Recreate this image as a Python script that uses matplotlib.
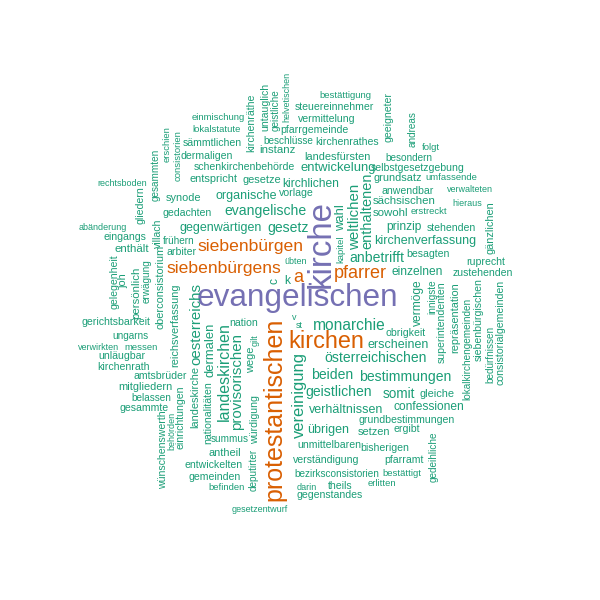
import matplotlib
matplotlib.use("Agg")
import matplotlib.pyplot as plt

# word frequencies (data)
words = [
    "kirche", "evangelischen", "protestantischen", "kirchen", "pfarrer", "a",
    "siebenbürgen", "siebenbürgens", "vereinigung", "landeskirchen", "monarchie",
    "weltlichen", "oesterreichs", "provisorischen", "enthaltenen", "evangelische",
    "gesetz", "anbetrifft", "österreichischen", "beiden", "bestimmungen",
    "geistlichen", "somit", "entwickelung", "wahl", "dermalen", "organische",
    "gegenwärtigen", "kirchenverfassung", "erscheinen", "verhältnissen", "übrigen",
    "kirchlichen", "prinzip", "einzelnen", "vermöge", "confessionen", "c", "k",
    "instanz", "sächsischen", "sowohl", "enthält", "persönlich",
    "entspricht", "gesetze", "synode", "landesfürsten", "grundsatz", "gänzlichen",
    "repräsentation", "gleiche", "setzen", "antheil", "landeskirche", "wege",
    "mitgliedern", "joh", "oberconsistorium", "reichsverfassung",
    "sämmtlichen", "dermaligen", "schenkirchenbehörde", "vorlage", "gedachten",
    "kirchenräthe", "untauglich", "gliedern", "villach", "pfarrgemeinde",
    "steuereinnehmer", "vermittelung", "kirchenrathes", "geeigneter",
    "selbstgesetzgebung", "anwendbar", "stehenden", "besagten", "ruprecht",
    "zustehenden", "superintendenten", "siebenbürgischen", "consistorialgemeinden",
    "obrigkeit", "grundbestimmungen", "ergibt", "unmittelbaren", "bisherigen",
    "verständigung", "pfarramt", "theils", "gegenstandes", "würdigung",
    "entwickelten", "gemeinden", "nationalitäten", "nation", "gesammte",
    "wünschenswerth", "einrichtungen", "eingangs", "arbiter", "gelegenheit",
    "gerichtsbarkeit", "unläugbar", "kirchenrath", "amtsbrüder",
    "geistliche", "gesammten", "beschlüsse", "andreas", "besondern", "innigste",
    "lokalkirchengemeinden", "bedürfnissen", "bezirksconsistorien", "gedeihliche",
    "deputirter", "summus", "belassen", "frühern", "erwägung", "ungarns",
    "einmischung", "lokalstatute", "erschien", "consistorien", "bestättigung",
    "folgt", "umfassende", "erstreckt", "kapitel", "bestättigt", "erlitten",
    "befinden", "messen",
    "rechtsboden", "abänderung", "helvetischen", "verwalteten", "hieraus",
    "darin", "gesetzentwurf", "gilt", "st", "v", "behörden", "übten", "verwirkten",
]
freq = [
    56, 53, 40, 37, 26, 26,
    25, 25, 23, 22, 21,
    20, 20, 20, 19, 18,
    18, 18, 18, 18, 18,
    18, 17, 16, 16, 16, 15,
    15, 15, 15, 15, 15,
    14, 14, 14, 14, 14, 14, 14,
    13, 13, 13, 13, 13,
    12, 12, 12, 12, 12, 12,
    12, 12, 12, 12, 12, 12,
    12, 12, 12, 12,
    11, 11, 11, 11, 11,
    11, 11, 11, 11, 11,
    11, 11, 11, 11,
    11, 11, 11, 11, 11,
    11, 11, 11, 11,
    11, 11, 11, 11, 11,
    11, 11, 11, 11, 11,
    11, 11, 11, 11, 11,
    11, 11, 11, 11, 11,
    11, 11, 11, 11,
    10, 10, 10, 10, 10, 10,
    10, 10, 10, 10,
    10, 10, 10, 10, 10, 10,
    9, 9, 9, 9, 9,
    9, 9, 9, 9, 9, 9,
    9, 9,
    8, 8, 8, 8, 8,
    8, 8, 8, 8, 8, 8, 8, 8,
]

# layout of the cloud: word centre in pixels and whether it is drawn upright
layout_x = [
    321, 297, 274, 326, 360, 298,
    250, 224, 299, 224, 349,
    355, 196, 237, 367, 265,
    288, 377, 376, 332, 405,
    339, 399, 338, 341, 210, 246,
    221, 425, 398, 346, 328,
    311, 404, 417, 418, 429, 274, 287,
    277, 404, 391, 132, 136,
    214, 262, 183, 337, 398, 491,
    455, 437, 374, 225, 195, 251,
    145, 123, 160, 175,
    212, 207, 244, 296, 187,
    251, 265, 140, 158, 314,
    334, 327, 347, 388,
    418, 408, 451, 428, 486,
    483, 442, 479, 500,
    406, 407, 407, 329, 385,
    326, 404, 340, 330, 255,
    214, 215, 208, 244, 144,
    163, 181, 125, 182, 114,
    116, 122, 124, 160,
    276, 156, 288, 413, 409, 432,
    467, 490, 337, 434,
    254, 230, 151, 179, 147, 130,
    218, 217, 167, 178, 345,
    431, 451, 429, 341, 402, 382,
    227, 141,
    122, 103, 287, 470, 467,
    307, 260, 255, 299, 294, 172, 296, 99,
]
layout_y = [
    244, 298, 409, 342, 274, 278,
    247, 268, 395, 372, 325,
    217, 324, 382, 211, 211,
    228, 258, 358, 375, 377,
    392, 394, 168, 218, 350, 196,
    228, 241, 345, 410, 430,
    184, 227, 272, 303, 407, 281, 281,
    150, 201, 213, 249, 293,
    179, 180, 198, 157, 178, 228,
    318, 394, 432, 453, 397, 360,
    387, 281, 287, 325,
    143, 156, 167, 193, 213,
    123, 107, 205, 233, 130,
    107, 119, 142, 117,
    168, 191, 228, 254, 262,
    273, 322, 320, 332,
    333, 420, 429, 445, 448,
    460, 460, 486, 495, 420,
    465, 477, 413, 323, 408,
    450, 417, 237, 252, 282,
    322, 356, 367, 376,
    110, 175, 141, 129, 158, 297,
    349, 354, 474, 457,
    470, 439, 398, 241, 281, 336,
    118, 129, 144, 156, 96,
    147, 177, 212, 249, 474, 484,
    487, 347,
    183, 228, 97, 190, 203,
    487, 510, 340, 325, 317, 431, 262, 347,
]
upright = [
    "kirche", "protestantischen", "vereinigung", "landeskirchen", "weltlichen",
    "oesterreichs", "provisorischen", "enthaltenen", "wahl", "dermalen",
    "vermöge", "c", "persönlich", "gänzlichen", "repräsentation", "landeskirche",
    "wege", "joh", "oberconsistorium", "reichsverfassung", "kirchenräthe",
    "untauglich", "gliedern", "villach", "geeigneter", "superintendenten",
    "siebenbürgischen", "consistorialgemeinden", "würdigung", "nationalitäten",
    "wünschenswerth", "einrichtungen", "gelegenheit", "geistliche", "gesammten",
    "andreas", "innigste", "lokalkirchengemeinden", "bedürfnissen", "gedeihliche",
    "deputirter", "erwägung", "erschien", "consistorien", "kapitel",
    "helvetischen", "gilt", "behörden",
]

dark2 = ["#1B9E77", "#D95F02", "#7570B3"]
max_f = max(freq)

fig = plt.figure(figsize=(6, 6), dpi=100)
ax = fig.add_axes([0, 0, 1, 1])
ax.set_xlim(0, 600)
ax.set_ylim(600, 0)
ax.axis("off")

for w, f, x, y in zip(words, freq, layout_x, layout_y):
    nf = f / max_f
    em_px = 5 + 28 * nf          # linear size scale, like wordcloud()
    if nf >= 0.85:
        col = dark2[2]
    elif nf >= 0.43:
        col = dark2[1]
    else:
        col = dark2[0]
    ax.text(x, y, w, fontsize=em_px * 0.72, color=col,
            rotation=90 if w in upright else 0,
            ha="center", va="center", family="Liberation Sans")

fig.savefig("out.png", dpi=100)
